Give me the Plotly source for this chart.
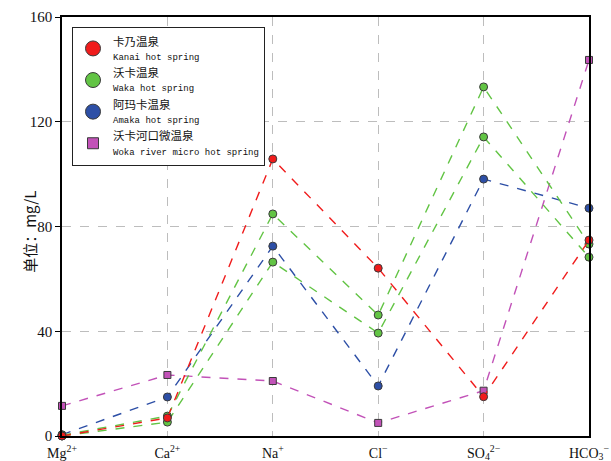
import plotly.graph_objects as go

categories = ["Mg<sup>2+</sup>", "Ca<sup>2+</sup>", "Na<sup>+</sup>", "Cl<sup>−</sup>",
              "SO<sub>4</sub><sup>2−</sup>", "HCO<sub>3</sub><sup>−</sup>"]
x_pos = [0, 1, 2, 3, 4, 5]

kanai = [0.0, 6.9, 105.8, 64.1, 15.0, 74.8]
waka_a = [0.3, 7.6, 84.8, 46.2, 133.3, 73.3]
waka_b = [0.0, 5.3, 66.4, 39.3, 114.2, 68.3]
amaka = [0.5, 14.9, 72.5, 19.1, 98.1, 87.0]
woka = [11.5, 23.3, 21.0, 5.0, 17.3, 143.6]

y_ticks = [0, 40, 80, 120, 160]

RED = "#f01c1c"
GREEN = "#62c444"
BLUE = "#2d4fa6"
MAG = "#c252b8"
EDGE = "#3a3a3a"

fig = go.Figure()

def series(y, color, symbol="circle", size=8):
    fig.add_trace(go.Scatter(
        x=x_pos, y=y, mode="lines+markers", showlegend=False, cliponaxis=False,
        line=dict(color=color, width=1.4, dash="dash"),
        marker=dict(color=color, symbol=symbol, size=size, line=dict(color=EDGE, width=1)),
    ))

series(woka, MAG, "square", 7)
series(amaka, BLUE)
series(waka_b, GREEN)
series(waka_a, GREEN)
series(kanai, RED)

def legend_item(name_cn, name_en, color, symbol, size):
    fig.add_trace(go.Scatter(
        x=[None], y=[None], mode="markers",
        name=(f"<span style='font-family:Noto Sans CJK SC;font-size:11.5px'>{name_cn}</span><br>"
              f"<span style='font-family:Liberation Mono;font-size:9px'>{name_en}</span>"),
        marker=dict(color=color, symbol=symbol, size=size, line=dict(color=EDGE, width=1)),
    ))

legend_item("卡乃温泉", "Kanai hot spring", RED, "circle", 15)
legend_item("沃卡温泉", "Waka hot spring", GREEN, "circle", 15)
legend_item("阿玛卡温泉", "Amaka hot spring", BLUE, "circle", 15)
legend_item("沃卡河口微温泉", "Woka river micro hot spring", MAG, "square", 11)

fig.update_layout(
    width=611, height=461,
    margin=dict(l=62, r=22, t=17, b=25),
    paper_bgcolor="white", plot_bgcolor="white",
    font=dict(family="Liberation Serif", color="#111111", size=14),
    legend=dict(
        x=0.019, y=0.977, xanchor="left", yanchor="top",
        bgcolor="white", bordercolor="#222222", borderwidth=1,
        font=dict(family="Liberation Mono, Noto Sans CJK SC", size=11, color="#111111"),
        itemsizing="trace", tracegroupgap=0, itemwidth=30,
    ),
    xaxis=dict(
        range=[0, 5], tickvals=x_pos, ticktext=categories,
        showline=True, linecolor="black", linewidth=1.5, mirror=True,
        showgrid=True, gridcolor="#bdbdbd", griddash="dash", gridwidth=1,
        ticks="outside", ticklen=3, tickcolor="rgba(0,0,0,0)", zeroline=False,
        tickfont=dict(family="Liberation Serif", size=14), automargin=False,
    ),
    yaxis=dict(
        range=[0, 160], tickvals=y_ticks,
        showline=True, linecolor="black", linewidth=1.5, mirror=True,
        showgrid=True, gridcolor="#bdbdbd", griddash="dash", gridwidth=1,
        ticks="outside", ticklen=5, tickcolor="black", zeroline=False,
        tickfont=dict(family="Liberation Serif", size=15), automargin=False,
    ),
    annotations=[dict(
        text="单位：mg/L", xref="paper", yref="paper", x=-0.061, y=0.487,
        textangle=-90, showarrow=False, xanchor="center", yanchor="middle",
        font=dict(family="Noto Sans CJK SC", size=15, color="#111111"),
    )],
)

fig.write_html("out.html")
